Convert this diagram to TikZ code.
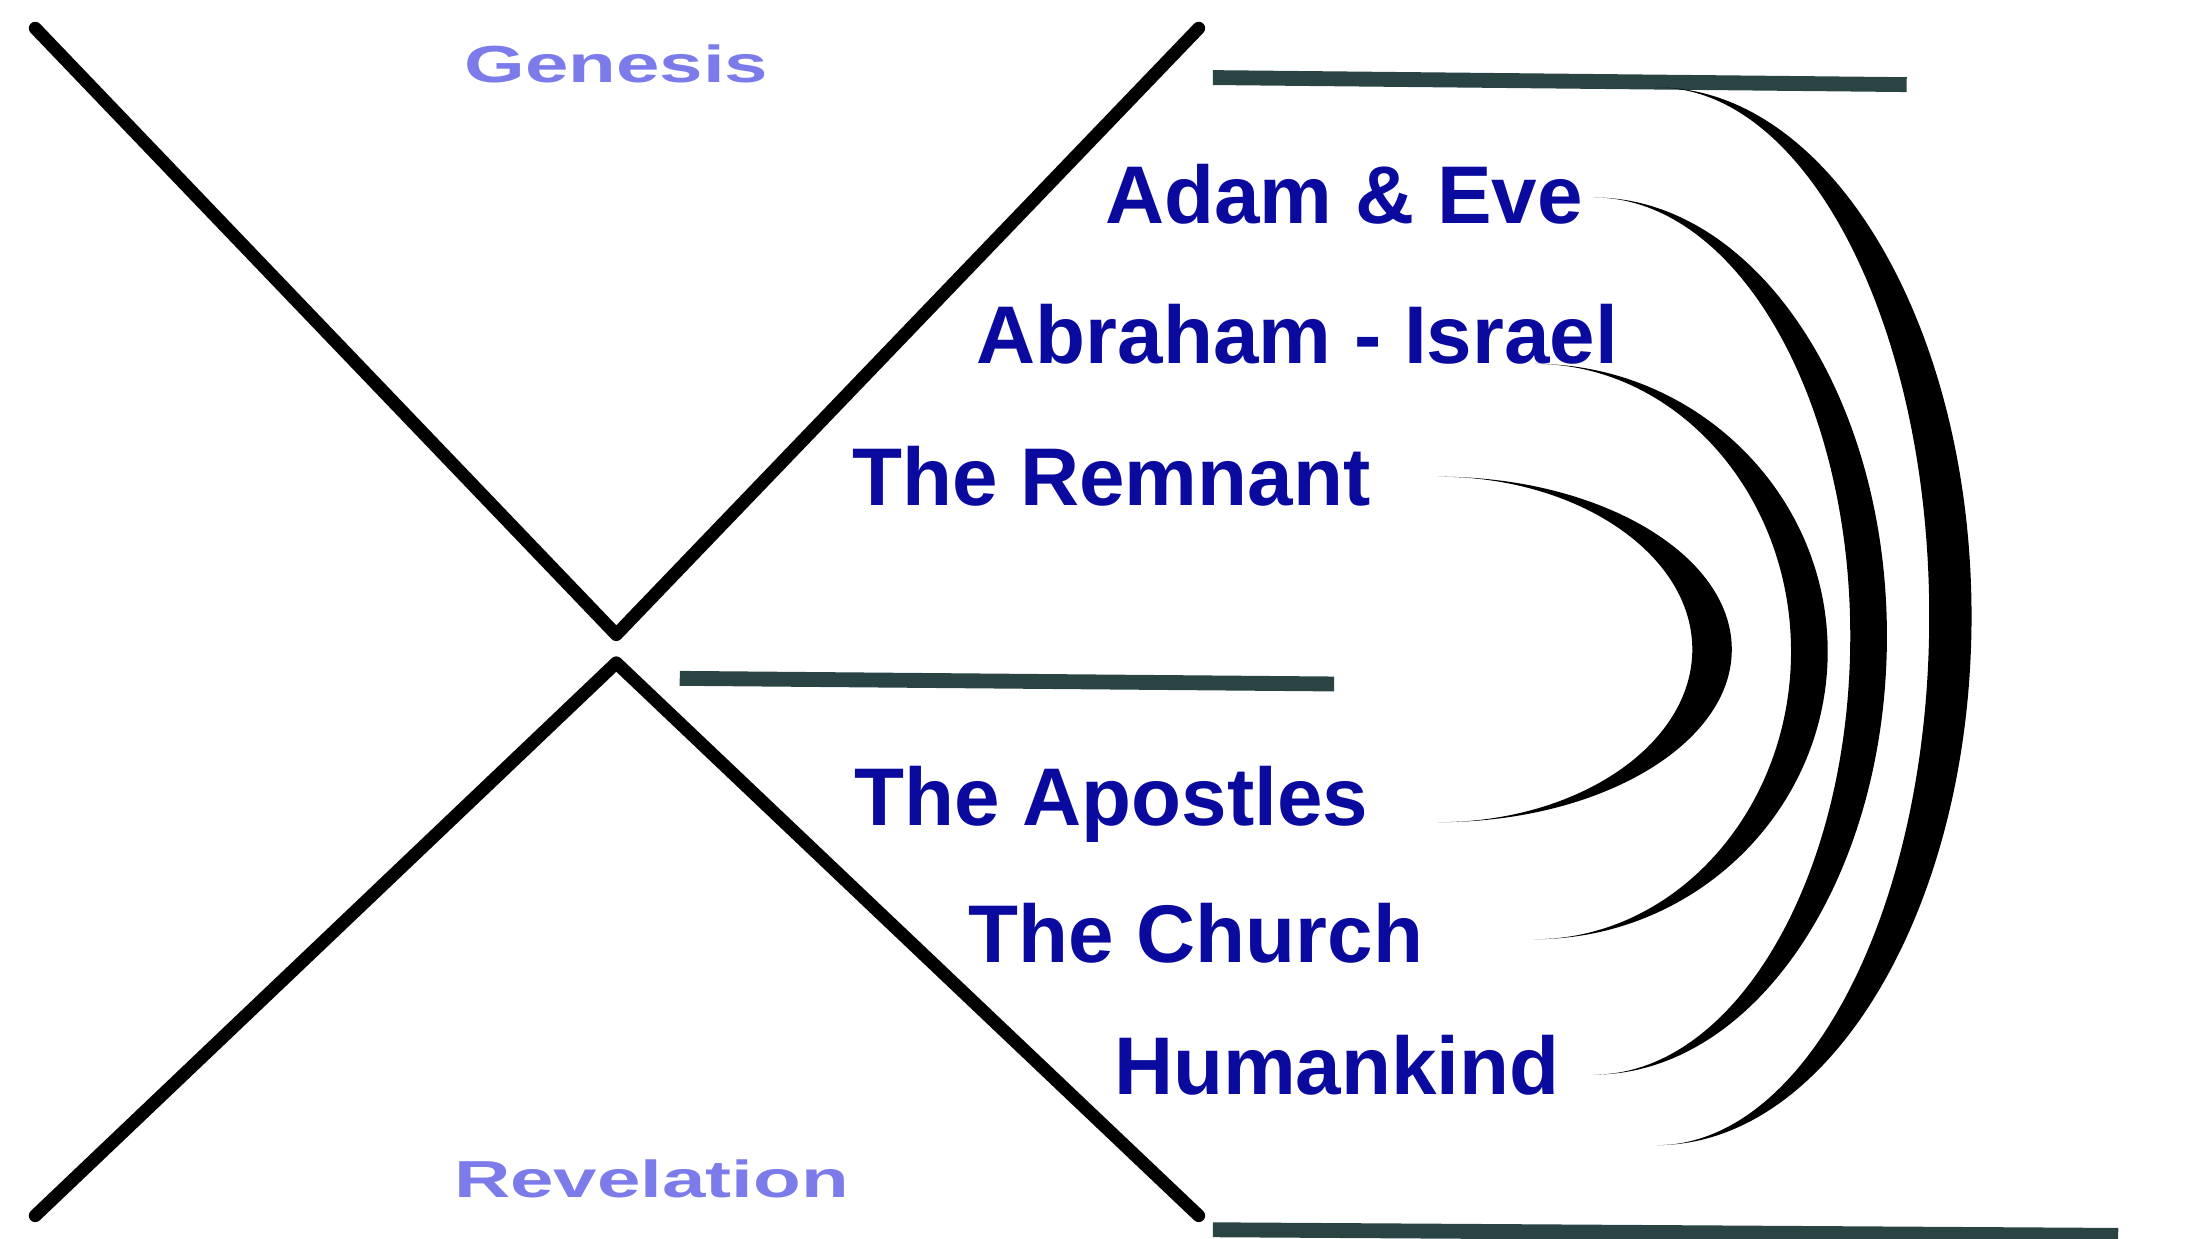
\documentclass[tikz,border=0pt]{standalone}
\usepackage{fontspec}
\setmainfont{Liberation Sans}
\definecolor{navyb}{HTML}{0A0A9E}
\definecolor{lav}{HTML}{7B7BEA}
\definecolor{slate}{HTML}{2A4444}
\newcommand\crescent[5]{% x0, ytop, ybot, xouter, xinner
 \pgfmathsetmacro\ym{(#2+#3)/2}
 \fill[black] (#1,#2) .. controls ({#1+0.55*(#4-#1)},#2) and (#4,{\ym-0.55*(\ym-#2)}) .. (#4,\ym)
   .. controls (#4,{\ym+0.55*(#3-\ym)}) and ({#1+0.55*(#4-#1)},#3) .. (#1,#3)
   .. controls ({#1+0.55*(#5-#1)},#3) and (#5,{\ym+0.55*(#3-\ym)}) .. (#5,\ym)
   .. controls (#5,{\ym-0.55*(\ym-#2)}) and ({#1+0.55*(#5-#1)},#2) .. (#1,#2) -- cycle;}
\begin{document}
\begin{tikzpicture}[x=0.01cm,y=-0.01cm,
  vline/.style={line width=2.6pt,line cap=round,line join=round},
  bar/.style={slate,line width=3pt},
  lbl/.style={navyb,font=\fontsize{16.5}{20}\selectfont\bfseries,inner sep=0},
  book/.style={lav,font=\fontsize{10.5}{13}\selectfont\bfseries,inner sep=0,xscale=1.5}]
\useasboundingbox (0,0) rectangle (1560,878);
\draw[vline] (25,20) -- (437,450) -- (850,20);
\draw[vline] (25,862) -- (437,470) -- (850,862);
\coordinate (b1a) at (860,55); \coordinate (b1b) at (1352,60);
\coordinate (b2a) at (482,481); \coordinate (b2b) at (946,485);
\coordinate (b3a) at (860,872); \coordinate (b3b) at (1502,876);
\draw[bar] (b1a) -- (b1b);
\draw[bar] (b2a) -- (b2b);
\draw[bar] (b3a) -- (b3b);
\node[book] (gen) at (437,45) {Genesis};
\node[book] (rev) at (462,836) {Revelation};
\node[lbl] (adam) at (953,138) {Adam \& Eve};
\node[lbl] (abr) at (920,237) {Abraham - Israel};
\node[lbl] (rem) at (788,338) {The Remnant};
\node[lbl] (apo) at (788,570) {The Apostles};
\node[lbl] (chu) at (848,662) {The Church};
\node[lbl] (hum) at (948,755) {Humankind};
\crescent{1020}{338}{583}{1228}{1200}
\crescent{1088}{258}{666}{1296}{1270}
\crescent{1130}{140}{762}{1338}{1312}
\crescent{1175}{62}{812}{1398}{1368}
\end{tikzpicture}
\end{document}
